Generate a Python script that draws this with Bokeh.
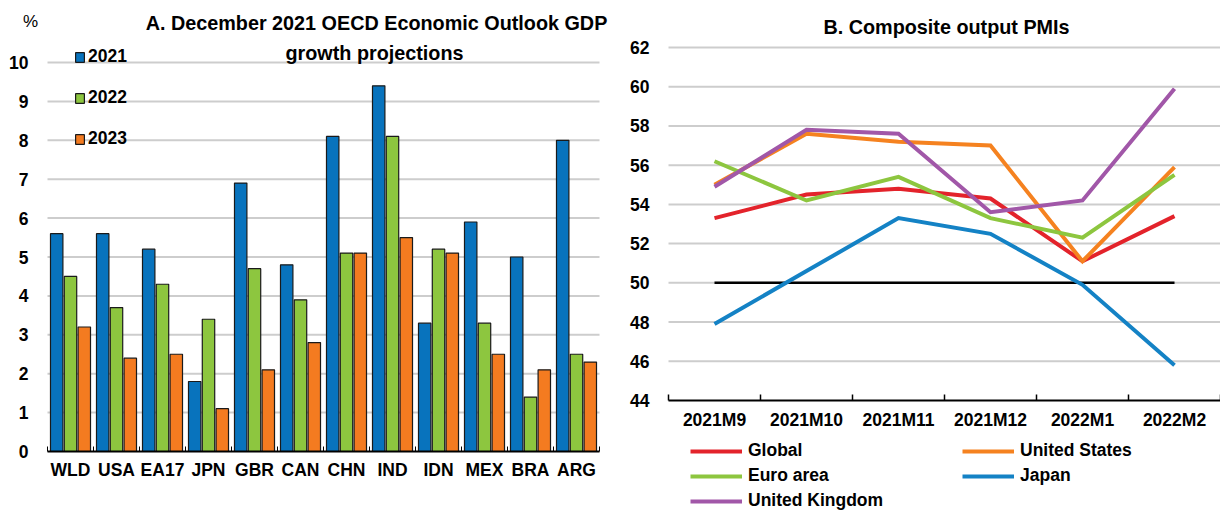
from bokeh.plotting import figure
from bokeh.models import Range1d, FixedTicker, Legend, LegendItem, Label
from bokeh.layouts import row
from bokeh.embed import file_html
from bokeh.resources import INLINE

# ---------------- data ----------------
countries = ["WLD", "USA", "EA17", "JPN", "GBR", "CAN", "CHN", "IND", "IDN", "MEX", "BRA", "ARG"]
gdp_2021 = [5.6, 5.6, 5.2, 1.8, 6.9, 4.8, 8.1, 9.4, 3.3, 5.9, 5.0, 8.0]
gdp_2022 = [4.5, 3.7, 4.3, 3.4, 4.7, 3.9, 5.1, 8.1, 5.2, 3.3, 1.4, 2.5]
gdp_2023 = [3.2, 2.4, 2.5, 1.1, 2.1, 2.8, 5.1, 5.5, 5.1, 2.5, 2.1, 2.3]
years = ["2021", "2022", "2023"]
gdp_ticks = list(range(0, 11))

months = ["2021M9", "2021M10", "2021M11", "2021M12", "2022M1", "2022M2"]
pmi_global = [53.3, 54.5, 54.8, 54.3, 51.1, 53.4]
pmi_us = [55.0, 57.6, 57.2, 57.0, 51.1, 55.9]
pmi_euro = [56.2, 54.2, 55.4, 53.3, 52.3, 55.5]
pmi_japan = [47.9, 50.6, 53.3, 52.5, 49.9, 45.8]
pmi_uk = [54.9, 57.8, 57.6, 53.6, 54.2, 59.9]
pmi_names = ["Global", "United States", "Euro area", "Japan", "United Kingdom"]
pmi_ticks = list(range(44, 63, 2))
threshold = 50

FONT = "Liberation Sans"
BLUE = "#0873BD"
GREEN = "#8DC63F"
ORANGE = "#F47B20"
C_GLOBAL = "#E3232B"
C_US = "#F58220"
C_EURO = "#8DC63F"
C_JAPAN = "#1482C5"
C_UK = "#A157A8"
GRID = "#CDCDCD"
TS = "17.5px"
TITLE_SIZE = "19.8px"
H = 512


def style_axis(ax):
    ax.major_label_text_font = FONT
    ax.major_label_text_font_style = "bold"
    ax.major_label_text_font_size = TS
    ax.major_label_text_color = "black"
    ax.major_tick_line_color = None
    ax.major_tick_out = 0
    ax.major_tick_in = 0


def text_label(x, y, txt, size=TITLE_SIZE, bold=True):
    return Label(x=x, y=y, x_units="screen", y_units="screen", text=txt,
                 text_align="center", text_baseline="middle", text_font=FONT,
                 text_color="black", text_font_size=size,
                 text_font_style="bold" if bold else "normal")


# ---------------- panel A (frame covers the whole figure; axes at fixed locations) ----------------
W1 = 612
fl, fr, fy0, fy10 = 47, 599, 451, 62          # pixel placement of the plotting area
ncat = len(countries)
ppx = (fr - fl) / ncat
ppy = (fy0 - fy10) / (gdp_ticks[-1] - gdp_ticks[0])
xr1 = Range1d(-fl / ppx, ncat + (W1 - fr) / ppx)
yr1 = Range1d(-(H - fy0) / ppy, gdp_ticks[-1] + fy10 / ppy)

p1 = figure(width=W1, height=H, x_range=xr1, y_range=yr1, output_backend="svg",
            toolbar_location=None, min_border=0)
p1.outline_line_color = None
p1.grid.visible = False
centers = [i + 0.5 for i in range(ncat)]
p1.segment(x0=0, x1=ncat, y0=gdp_ticks[1:], y1=gdp_ticks[1:], line_color=GRID, line_width=2)
rb = []
for off, vals, col in [(-0.3, gdp_2021, BLUE), (0.0, gdp_2022, GREEN), (0.3, gdp_2023, ORANGE)]:
    rb.append(p1.vbar(x=[c + off for c in centers], top=vals, width=0.27, bottom=0,
                      fill_color=col, line_color="#1A1A1A", line_width=1.2))

p1.yaxis.fixed_location = 0
p1.yaxis.ticker = FixedTicker(ticks=gdp_ticks)
p1.yaxis.axis_line_color = None
p1.yaxis.minor_tick_line_color = None
p1.yaxis.major_label_standoff = 19
style_axis(p1.yaxis)
p1.xaxis.fixed_location = 0
p1.xaxis.bounds = (0, ncat)
p1.xaxis.ticker = FixedTicker(ticks=centers, minor_ticks=list(range(ncat + 1)))
p1.xaxis.major_label_overrides = {c: n for c, n in zip(centers, countries)}
p1.xaxis.minor_tick_in = 5
p1.xaxis.minor_tick_out = 0
p1.xaxis.minor_tick_line_color = "black"
p1.xaxis.axis_line_color = "black"
p1.xaxis.axis_line_width = 2
p1.xaxis.major_label_standoff = 8
style_axis(p1.xaxis)

leg1 = Legend(items=[LegendItem(label=y, renderers=[r]) for y, r in zip(years, rb)],
              location=(74, H - 149), background_fill_alpha=0, border_line_color=None,
              glyph_width=11, glyph_height=12, label_height=12, spacing=20, padding=0, margin=0,
              label_standoff=3, label_text_font=FONT, label_text_font_style="bold",
              label_text_color="black", label_text_font_size=TS)
p1.add_layout(leg1, "center")
p1.add_layout(text_label(376, H - 22, "A. December 2021 OECD Economic Outlook GDP"))
p1.add_layout(text_label(374, H - 52, "growth projections"))
p1.add_layout(text_label(30, H - 21, "%", size="17px", bold=False))

# ---------------- panel B ----------------
W2 = 608
gl, gr, gy44, gy62 = 668 - W1, 1220 - W1, 400, 47
nm = len(months)
qx = (gr - gl) / nm
qy = (gy44 - gy62) / (pmi_ticks[-1] - pmi_ticks[0])
xr2 = Range1d(-gl / qx, nm + (W2 - gr) / qx)
yr2 = Range1d(pmi_ticks[0] - (H - gy44) / qy, pmi_ticks[-1] + gy62 / qy)

p2 = figure(width=W2, height=H, x_range=xr2, y_range=yr2, output_backend="svg",
            toolbar_location=None, min_border=0)
p2.outline_line_color = None
p2.grid.visible = False
mc = [i + 0.5 for i in range(nm)]
p2.segment(x0=0, x1=nm, y0=pmi_ticks[1:], y1=pmi_ticks[1:], line_color=GRID, line_width=2)
p2.line(x=[mc[0], mc[-1]], y=[threshold, threshold], line_color="black", line_width=2.5)
series = {}
for name, vals, col in [("Global", pmi_global, C_GLOBAL), ("United States", pmi_us, C_US),
                        ("Euro area", pmi_euro, C_EURO), ("Japan", pmi_japan, C_JAPAN),
                        ("United Kingdom", pmi_uk, C_UK)]:
    series[name] = p2.line(x=mc, y=vals, line_color=col, line_width=4, line_join="miter")

p2.yaxis.fixed_location = 0
p2.yaxis.ticker = FixedTicker(ticks=pmi_ticks)
p2.yaxis.axis_line_color = None
p2.yaxis.minor_tick_line_color = None
p2.yaxis.major_label_standoff = 19
style_axis(p2.yaxis)
p2.xaxis.fixed_location = pmi_ticks[0]
p2.xaxis.bounds = (0, nm)
p2.xaxis.ticker = FixedTicker(ticks=mc, minor_ticks=list(range(nm + 1)))
p2.xaxis.major_label_overrides = {c: n for c, n in zip(mc, months)}
p2.xaxis.minor_tick_in = 6
p2.xaxis.minor_tick_out = 0
p2.xaxis.minor_tick_line_color = "black"
p2.xaxis.minor_tick_line_width = 1.5
p2.xaxis.axis_line_color = "black"
p2.xaxis.axis_line_width = 2
p2.xaxis.major_label_standoff = 9
style_axis(p2.xaxis)

# legend fills column by column: first column Global / Euro area / United Kingdom
legend_order = ["Global", "Euro area", "United Kingdom", "United States", "Japan"]
leg2 = Legend(items=[LegendItem(label=n, renderers=[series[n]]) for n in legend_order],
              location=(690 - W1, 1), ncols=2, background_fill_alpha=0, border_line_color=None,
              glyph_width=52, glyph_height=20, label_height=20, label_width=210, spacing=4,
              padding=0, margin=0, label_standoff=6, label_text_font=FONT,
              label_text_color="black", label_text_font_style="bold", label_text_font_size=TS)
p2.add_layout(leg2, "center")
p2.add_layout(text_label(946 - W1, H - 26, "B. Composite output PMIs"))

layout = row(p1, p2)
open("out.html", "w").write(file_html(layout, INLINE))
